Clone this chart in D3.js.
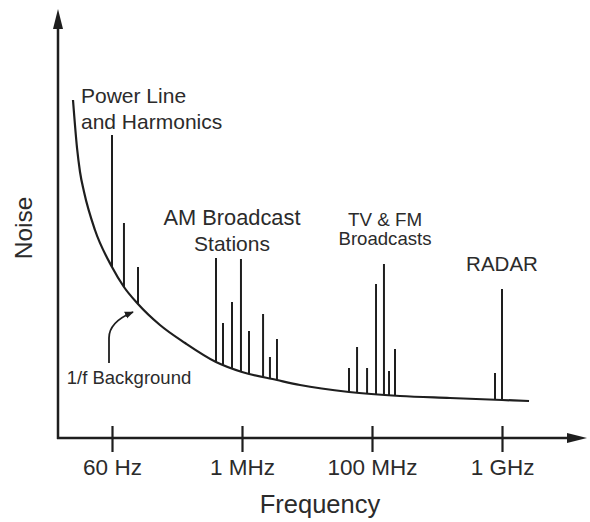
<!DOCTYPE html>
<html>
<head>
<meta charset="utf-8">
<script src="https://cdn.jsdelivr.net/npm/d3@7"></script>
<style>
  html, body { margin: 0; padding: 0; background: #fff; }
  svg { display: block; font-family: "Liberation Sans", Arial, sans-serif; }
</style>
</head>
<body>
<svg id="chart" width="590" height="522"></svg>
<script>
// frequency position is in "tick units": 0 = 60 Hz, 1 = 1 MHz, 2 = 100 MHz, 3 = 1 GHz
const tickLabels = ["60 Hz", "1 MHz", "100 MHz", "1 GHz"];
const tickPositions = [0, 1, 2, 3];

// 1/f background noise curve
const backgroundFreq = [-0.3, -0.269, -0.246, -0.215, -0.131, 0, 0.092, 0.2, 0.369, 0.562, 0.8, 1.0, 1.269, 1.446, 1.823, 2.215, 2.6, 3.0, 3.208];
const backgroundNoise = [338, 290, 266, 246, 208, 171, 151, 134, 113, 95, 76, 66, 58, 53, 46, 42, 40, 38, 37];

// interference spikes: frequency position and peak noise
const powerLineFreq = [0, 0.092, 0.2];
const powerLinePeak = [303, 215, 171];
const amFreq = [0.8, 0.854, 0.923, 0.992, 1.054, 1.162, 1.215, 1.269];
const amPeak = [180, 115, 136, 179, 107, 124, 81, 99];
const tvFmFreq = [1.823, 1.885, 1.962, 2.031, 2.092, 2.131, 2.177];
const tvFmPeak = [70, 91, 70, 154, 174, 67, 89];
const radarFreq = [2.946, 3.0];
const radarPeak = [65, 149];

const svg = d3.select("#chart");
const ink = "#1e1e1e";
const textInk = "#2b2b2b";

const axisX0 = 58;
const axisY0 = 438;

const x = d3.scaleLinear().domain([0, 3]).range([112, 502]);
const y = d3.scaleLinear().domain([0, 430]).range([axisY0, 8]);

// background level at a frequency, piecewise from the read curve
const backgroundAt = d3.scaleLinear().domain(backgroundFreq).range(backgroundNoise);

const defs = svg.append("defs");
defs.append("marker")
  .attr("id", "arrow-small")
  .attr("viewBox", "0 0 10 10")
  .attr("refX", 9).attr("refY", 5)
  .attr("markerWidth", 9).attr("markerHeight", 9)
  .attr("markerUnits", "userSpaceOnUse")
  .attr("orient", "auto")
  .append("path").attr("d", "M0,1 L10,5 L0,9 Z").attr("fill", ink);

// axes with arrowheads
svg.append("line")
  .attr("x1", axisX0).attr("y1", axisY0 + 1)
  .attr("x2", axisX0).attr("y2", 26)
  .attr("stroke", ink).attr("stroke-width", 2.5);
svg.append("path")
  .attr("d", `M${axisX0 - 5},29 L${axisX0},9 L${axisX0 + 5},29 Z`)
  .attr("fill", ink);

svg.append("line")
  .attr("x1", axisX0 - 1).attr("y1", axisY0)
  .attr("x2", 570).attr("y2", axisY0)
  .attr("stroke", ink).attr("stroke-width", 2.5);
svg.append("path")
  .attr("d", `M567,${axisY0 - 5} L587,${axisY0} L567,${axisY0 + 5} Z`)
  .attr("fill", ink);

const xAxis = svg.append("g")
  .attr("transform", `translate(0,${axisY0})`)
  .call(d3.axisBottom(x)
    .tickValues(tickPositions)
    .tickFormat((d, i) => tickLabels[i])
    .tickSize(10));
xAxis.select(".domain").remove();
xAxis.selectAll(".tick line")
  .attr("y1", -12).attr("y2", 14)
  .attr("stroke", ink).attr("stroke-width", 2.2);
xAxis.selectAll(".tick text")
  .attr("y", 37)
  .attr("dy", 0)
  .attr("fill", textInk)
  .attr("font-size", 22.5)
  .attr("font-family", "Liberation Sans, Arial, sans-serif");

// background curve
const line = d3.line()
  .x((d) => x(d[0]))
  .y((d) => y(d[1]))
  .curve(d3.curveMonotoneX);
svg.append("path")
  .datum(d3.zip(backgroundFreq, backgroundNoise))
  .attr("d", line)
  .attr("fill", "none")
  .attr("stroke", ink)
  .attr("stroke-width", 2.2);

// spikes
const spikes = [
  ...d3.zip(powerLineFreq, powerLinePeak),
  ...d3.zip(amFreq, amPeak),
  ...d3.zip(tvFmFreq, tvFmPeak),
  ...d3.zip(radarFreq, radarPeak),
];
svg.append("g")
  .selectAll("line")
  .data(spikes)
  .join("line")
  .attr("x1", (d) => x(d[0]))
  .attr("x2", (d) => x(d[0]))
  .attr("y1", (d) => y(backgroundAt(d[0])))
  .attr("y2", (d) => y(d[1]))
  .attr("stroke", ink)
  .attr("stroke-width", 2);

// annotations
const note = (text, px, py, size, anchor) =>
  svg.append("text")
    .attr("x", px).attr("y", py)
    .attr("font-size", size)
    .attr("text-anchor", anchor || "start")
    .attr("fill", textInk)
    .text(text);

note("Power Line", 81, 103, 21);
note("and Harmonics", 81, 129, 21);
note("AM Broadcast", 232, 225, 21.8, "middle");
note("Stations", 232, 251, 21, "middle");
note("TV & FM", 385, 226, 18.8, "middle");
note("Broadcasts", 385, 245, 18.6, "middle");
note("RADAR", 502, 271, 20.5, "middle");
note("1/f Background", 129, 384, 18.5, "middle");

// arrow pointing at the background curve
svg.append("path")
  .attr("d", "M109,363 L109,338 Q109,322 133,312")
  .attr("fill", "none")
  .attr("stroke", ink)
  .attr("stroke-width", 1.8)
  .attr("marker-end", "url(#arrow-small)");

// axis titles
svg.append("text")
  .attr("x", 320).attr("y", 513)
  .attr("text-anchor", "middle")
  .attr("font-size", 25.5)
  .attr("fill", textInk)
  .text("Frequency");
svg.append("text")
  .attr("transform", "translate(32,228) rotate(-90)")
  .attr("text-anchor", "middle")
  .attr("font-size", 24.5)
  .attr("fill", textInk)
  .text("Noise");
</script>
</body>
</html>
